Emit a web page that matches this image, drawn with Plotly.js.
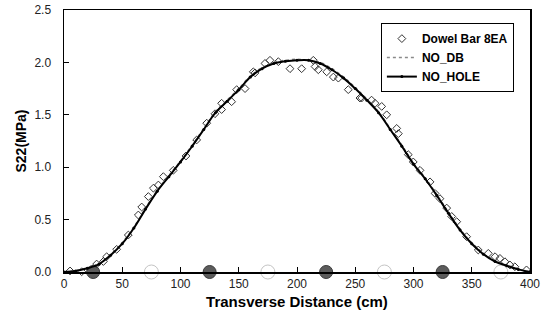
<!DOCTYPE html>
<html>
<head>
<meta charset="utf-8">
<script src="https://cdn.plot.ly/plotly-3.0.1.min.js"></script>
<style>
  html, body { margin: 0; padding: 0; background: #fff; }
  #chart { width: 548px; height: 322px; }
</style>
</head>
<body>
<div id="chart"></div>
<script>
// Transverse stress S22 along the slab (cm), three models.
const gridX = [0, 10, 20, 30, 40, 50, 60, 70, 80, 90, 100, 110, 120, 130, 140, 150, 160, 170, 180, 190, 200,
               210, 220, 230, 240, 250, 260, 270, 280, 290, 300, 310, 320, 330, 340, 350, 360, 370, 380, 390, 400];

const noHole = [0.0, 0.01, 0.035, 0.075, 0.16, 0.27, 0.42, 0.60, 0.77, 0.91, 1.05, 1.20, 1.36, 1.52, 1.63, 1.74, 1.86, 1.94, 1.99, 2.01, 2.02,
                2.02, 1.99, 1.93, 1.85, 1.75, 1.64, 1.52, 1.36, 1.20, 1.03, 0.89, 0.73, 0.56, 0.40, 0.27, 0.17, 0.10, 0.06, 0.025, 0.0];

const noDb = [0.0, 0.012, 0.04, 0.08, 0.165, 0.28, 0.43, 0.61, 0.78, 0.92, 1.06, 1.21, 1.37, 1.53, 1.64, 1.75, 1.87, 1.95, 2.0, 2.02, 2.03,
              2.02, 2.0, 1.94, 1.86, 1.76, 1.65, 1.53, 1.37, 1.21, 1.04, 0.90, 0.74, 0.57, 0.41, 0.28, 0.18, 0.11, 0.065, 0.03, 0.0];

const dowelX = [5.2, 15.2, 28, 33.8, 36.6, 45.2, 55.2, 63.8, 66.7, 72.4, 76.7, 81, 85.3, 93.8, 104.7, 113.9, 122.5, 129.6,
                135.3, 135.3, 143.9, 148.2, 155.4, 162.5, 164, 172.5, 176.8, 184, 194, 204, 214, 215.5, 218.3, 225.5, 231.2,
                235.5, 244, 254, 255.5, 264, 267, 272.7, 277, 285.6, 287, 295.5, 299.8, 305.6, 314.2, 318.5, 322.7, 328.5,
                332.8, 337.1, 345.6, 355.6, 364.2, 370, 374.2, 378.5, 382.8, 387, 397];
const dowelY = [0.01, 0.003, 0.076, 0.10, 0.146, 0.216, 0.353, 0.544, 0.62, 0.72, 0.80, 0.83, 0.91, 0.97, 1.107, 1.26, 1.42, 1.51,
                1.61, 1.55, 1.625, 1.74, 1.75, 1.91, 1.90, 1.99, 2.02, 2.007, 1.94, 1.94, 2.02, 1.96, 1.93, 1.91, 1.86,
                1.85, 1.74, 1.66, 1.66, 1.64, 1.61, 1.58, 1.50, 1.37, 1.32, 1.12, 1.05, 0.97, 0.86, 0.75, 0.70, 0.61,
                0.53, 0.48, 0.337, 0.21, 0.178, 0.146, 0.13, 0.098, 0.067, 0.05, 0.02];

// Dowel bar positions (filled) and hole positions (open) along the joint
const barX = [25, 125, 225, 325];
const barY = [0, 0, 0, 0];
const holeX = [75, 175, 275, 375];
const holeY = [0, 0, 0, 0];

const FONT = 'Liberation Sans, Arial, sans-serif';

const traces = [
  {
    x: holeX, y: holeY, type: 'scatter', mode: 'markers', showlegend: false, hoverinfo: 'skip',
    cliponaxis: false,
    marker: { symbol: 'circle', size: 14, color: '#ffffff', line: { color: '#c4c4c4', width: 1 } }
  },
  {
    x: barX, y: barY, type: 'scatter', mode: 'markers', showlegend: false, hoverinfo: 'skip',
    cliponaxis: false,
    marker: { symbol: 'circle', size: 13, color: '#5c5c5c', line: { color: '#3a3a3a', width: 1 } }
  },
  {
    name: 'Dowel Bar 8EA', x: dowelX, y: dowelY, type: 'scatter', mode: 'markers', cliponaxis: false,
    marker: { symbol: 'diamond-open', size: 6, color: '#333', line: { width: 1 } }
  },
  {
    name: 'NO_DB', x: gridX, y: noDb, type: 'scatter', mode: 'lines',
    line: { color: '#8a8a8a', width: 1.5, dash: 'dot', shape: 'spline' }
  },
  {
    name: 'NO_HOLE', x: gridX, y: noHole, type: 'scatter', mode: 'lines+markers',
    line: { color: '#000', width: 2, shape: 'spline' },
    marker: { symbol: 'circle', size: 3, color: '#000' }
  }
];

const layout = {
  width: 548, height: 322,
  margin: { l: 64, r: 18, t: 10, b: 50 },
  paper_bgcolor: '#fff', plot_bgcolor: '#fff',
  font: { family: FONT, color: '#000', size: 12 },
  showlegend: true,
  legend: {
    x: 0.68, y: 0.95, xanchor: 'left', yanchor: 'top',
    bgcolor: '#fff', bordercolor: '#000', borderwidth: 1,
    font: { family: FONT, size: 12, color: '#000', weight: 'bold' },
    tracegroupgap: 0
  },
  xaxis: {
    range: [0, 400], dtick: 50, tick0: 0,
    showgrid: false, zeroline: false,
    showline: true, linecolor: '#000', linewidth: 1.5, mirror: true,
    ticks: 'inside', ticklen: 5, tickwidth: 1, tickcolor: '#000',
    tickfont: { family: FONT, size: 12, color: '#222' },
    title: { text: 'Transverse Distance (cm)', font: { family: FONT, size: 15, weight: 'bold', color: '#000' }, standoff: 6 }
  },
  yaxis: {
    range: [0, 2.5], dtick: 0.5, tick0: 0, tickformat: '.1f',
    showgrid: false, zeroline: false,
    showline: true, linecolor: '#000', linewidth: 1.5, mirror: true,
    ticks: 'inside', ticklen: 5, tickwidth: 1, tickcolor: '#000',
    ticklabelstandoff: 9,
    tickfont: { family: FONT, size: 12, color: '#222' },
    title: { text: 'S22(MPa)', font: { family: FONT, size: 14, weight: 'bold', color: '#000' }, standoff: 4 }
  }
};

Plotly.newPlot('chart', traces, layout, { displayModeBar: false, staticPlot: true });
</script>
</body>
</html>
